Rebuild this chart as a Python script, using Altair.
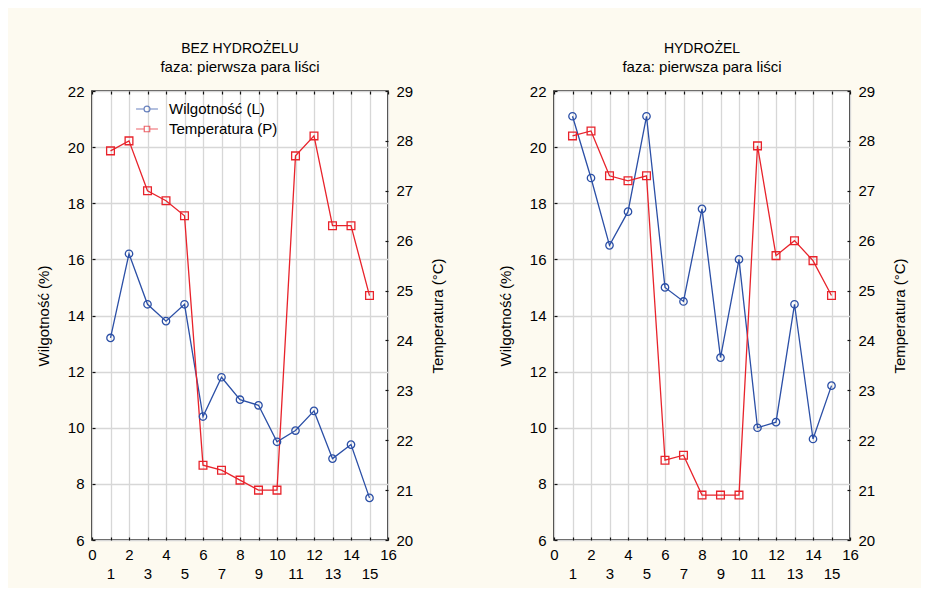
import altair as alt
import pandas as pd

# ---- data ----
days = list(range(1, 16))
wilg_bez = [13.2, 16.2, 14.4, 13.8, 14.4, 10.4, 11.8, 11.0, 10.8, 9.5, 9.9, 10.6, 8.9, 9.4, 7.5]
temp_bez = [27.8, 28.0, 27.0, 26.8, 26.5, 21.5, 21.4, 21.2, 21.0, 21.0, 27.7, 28.1, 26.3, 26.3, 24.9]
wilg_hyd = [21.1, 18.9, 16.5, 17.7, 21.1, 15.0, 14.5, 17.8, 12.5, 16.0, 10.0, 10.2, 14.4, 9.6, 11.5]
temp_hyd = [28.1, 28.2, 27.3, 27.2, 27.3, 21.6, 21.7, 20.9, 20.9, 20.9, 27.9, 25.7, 26.0, 25.6, 24.9]

panel_titles = ["BEZ HYDROŻELU", "HYDROŻEL"]
subtitle = "faza: pierwsza para liści"
series_names = ["Wilgotność (L)", "Temperatura (P)"]
x_ticks = list(range(0, 17))
y_left_ticks = list(range(6, 23, 2))
y_right_ticks = list(range(20, 30))

BLUE = "#2b4fa6"
RED = "#e8232b"
FONT = "Liberation Sans"
BG = "#fdfaf0"

xscale = alt.Scale(domain=[0, 16], nice=False, zero=False)
yl_scale = alt.Scale(domain=[6, 22], nice=False, zero=False)
yr_scale = alt.Scale(domain=[20, 29], nice=False, zero=False)

circle_leg = "M-1,0H-0.27M0.27,0H1M-0.27,0A0.27,0.27,0,1,0,0.27,0A0.27,0.27,0,1,0,-0.27,0"
square_leg = "M-1,0H-0.25M0.25,0H1M-0.25,-0.25H0.25V0.25H-0.25Z"


def panel(wilg, temp, title, with_legend):
    df = pd.DataFrame({"dzien": days, "wilg": wilg, "temp": temp})
    base = alt.Chart(df)

    x_bottom = alt.X(
        "dzien:Q", scale=xscale,
        axis=alt.Axis(orient="bottom", values=x_ticks, title=None, grid=True,
                      tickSize=3, offset=-3, domain=False, labelPadding=7,
                      labelOverlap=False, labelFlush=False, labelLineHeight=19,
                      labelExpr="datum.value % 2 == 0 ? datum.label : ['', datum.label]"),
    )
    x_top = alt.X(
        "dzien:Q", scale=xscale,
        axis=alt.Axis(orient="top", values=x_ticks, title=None, grid=False,
                      labels=False, tickSize=3, offset=-3, domain=False),
    )
    x_none = alt.X("dzien:Q", scale=xscale, axis=None)

    y_left = alt.Y(
        "wilg:Q", scale=yl_scale,
        axis=alt.Axis(orient="left", values=y_left_ticks, title="Wilgotność (%)",
                      grid=True, tickSize=3, offset=-3, domain=False,
                      labelPadding=8, titlePadding=16),
    )
    y_right = alt.Y(
        "temp:Q", scale=yr_scale,
        axis=alt.Axis(orient="right", values=y_right_ticks, title="Temperatura (°C)",
                      grid=False, tickSize=3, offset=-3, domain=False,
                      labelPadding=8, titlePadding=18, titleAngle=270,
                      titleBaseline="top"),
    )

    hum_line = base.mark_line(color=BLUE, strokeWidth=1.3).encode(x=x_bottom, y=y_left)
    hum_pts = base.mark_point(shape="circle", filled=False, color=BLUE, size=55,
                              strokeWidth=1.3, opacity=1).encode(
        x=x_none, y=alt.Y("wilg:Q", scale=yl_scale, axis=None))
    temp_line = base.mark_line(color=RED, strokeWidth=1.3).encode(x=x_top, y=y_right)
    temp_pts = base.mark_point(shape="square", filled=False, color=RED, size=60,
                               strokeWidth=1.3, opacity=1).encode(
        x=x_none, y=alt.Y("temp:Q", scale=yr_scale, axis=None))

    layers = [hum_line, temp_line, hum_pts, temp_pts]

    if with_legend:
        ldf = pd.DataFrame({"seria": series_names, "dzien": [1, 1], "wilg": [10, 10]})
        leg = alt.Legend(orient="none", legendX=43, legendY=6, title=None,
                         labelFontSize=15, labelFont=FONT, labelColor="black",
                         symbolSize=480, symbolStrokeWidth=1.2, labelOffset=10,
                         rowPadding=0, padding=0, symbolFillColor="transparent")
        legend_layer = alt.Chart(ldf).transform_filter("false").mark_point(
            filled=False).encode(
            x=x_none,
            y=alt.Y("wilg:Q", scale=yl_scale, axis=None),
            color=alt.Color("seria:N", scale=alt.Scale(domain=series_names, range=[BLUE, RED]),
                            legend=leg),
            shape=alt.Shape("seria:N", scale=alt.Scale(domain=series_names,
                                                       range=[circle_leg, square_leg]),
                            legend=leg),
        )
        layers.append(legend_layer)

    return alt.layer(*layers).resolve_scale(y="independent").resolve_axis(
        x="independent", y="independent"
    ).properties(
        width=296, height=449,
        view=alt.ViewBackground(fill="white", stroke="#111111", strokeWidth=1.6),
        title=alt.TitleParams(text=title, subtitle=subtitle, anchor="middle",
                              font=FONT, fontSize=14, fontWeight="normal", color="black",
                              subtitleFont=FONT, subtitleFontSize=15, subtitleColor="black",
                              subtitlePadding=4, offset=9),
    )


left = panel(wilg_bez, temp_bez, panel_titles[0], True)
right = panel(wilg_hyd, temp_hyd, panel_titles[1], False)

chart = alt.hconcat(left, right, spacing=50).resolve_scale(
    color="independent", shape="independent"
).resolve_legend(color="independent", shape="independent").properties(
    background=BG,
    padding={"left": 27, "top": 33, "right": 12, "bottom": 6},
).configure_view(
    fill="white", stroke="#111111", strokeWidth=1.6
).configure_axis(
    labelFont=FONT, titleFont=FONT, labelFontSize=15, titleFontSize=15,
    labelColor="black", titleColor="black", titleFontWeight="normal",
    tickColor="#111111", tickWidth=1.2, gridColor="#d7d7d7", gridWidth=1.3,
)

chart.save("out.html", embed_options={"renderer": "svg", "actions": False})
